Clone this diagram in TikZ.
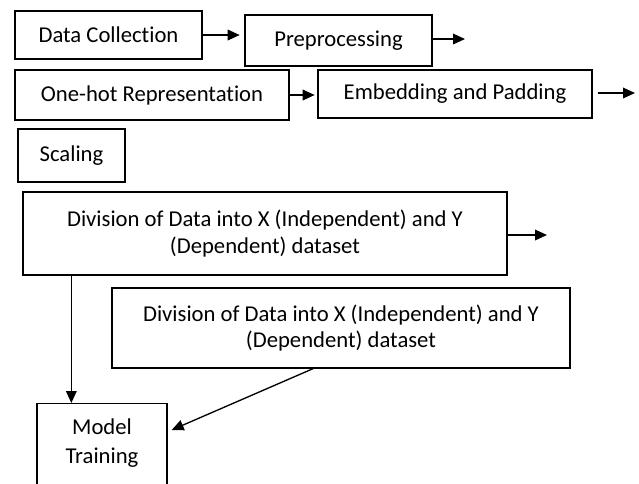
\documentclass[tikz,border=0pt]{standalone}
\usepackage{fontspec}
\setmainfont{Carlito}[Ligatures=NoCommon]
\usetikzlibrary{arrows.meta}

\begin{document}
\begin{tikzpicture}[x=0.75pt, y=-0.75pt,
        stepbox/.style={draw, line width=1pt, inner sep=0pt, align=center,
                        font=\fontsize{17}{19.8}\selectfont},
        flow/.style={-{Triangle[length=9pt, width=8pt]}, line width=1pt}]
    \useasboundingbox (0,0) rectangle (639,483);
    \path   node[stepbox, minimum width=140.25pt, minimum height=36pt] (collect) at (108.5, 35) {Data Collection}
            node[stepbox, minimum width=140.25pt, minimum height=38.25pt] (prep) at (338.5, 40.5) {Preprocessing}
            node[stepbox, minimum width=205.5pt, minimum height=37.5pt] (onehot) at (152, 95) {One-hot Representation}
            node[stepbox, minimum width=205.5pt, minimum height=36pt] (embed) at (455, 94) {Embedding and Padding}
            node[stepbox, minimum width=80.25pt, minimum height=39.75pt] (scale) at (71.5, 155.5) {Scaling}
            node[stepbox, minimum width=363pt, minimum height=62.25pt] (split) at (265, 233.5)
                {Division of Data into X (Independent) and Y\\(Dependent) dataset}
            node[stepbox, minimum width=343.5pt, minimum height=60pt] (splitb) at (341, 328)
                {Division of Data into X (Independent) and Y\\(Dependent) dataset}
            node[stepbox, minimum width=97.5pt, minimum height=75pt, anchor=north,
                 label={[align=center, anchor=north, yshift=-8pt, font=\fontsize{17}{19.8}\selectfont]north:Model\\[2pt]Training}]
                (train) at (102, 403) {};
    \coordinate (prepout) at (465, 39);
    \coordinate (embout) at (635, 93);
    \coordinate (splitout) at (547, 235);
    \draw[flow] (collect.east) -- ([xshift=-3.5pt]collect.east -| prep.west);
    \draw[flow] (prep.east |- prepout) -- (prepout);
    \draw[flow] (onehot.east) -- ([xshift=-2pt]onehot.east -| embed.west);
    \draw[flow] ([xshift=3.75pt]embed.east |- embout) -- (embout);
    \draw[flow] (split.east |- splitout) -- (splitout);
    \draw[flow] ([xshift=36.75pt]split.south west) -- ([xshift=36.75pt]split.south west |- train.north);
    \draw[flow] ([xshift=-21pt]splitb.south) -- ([shift={(3pt,-20.25pt)}]train.north east);
\end{tikzpicture}
\end{document}
